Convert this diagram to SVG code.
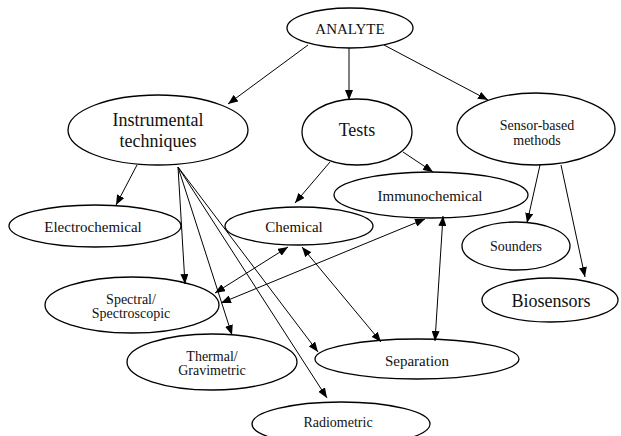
<svg xmlns="http://www.w3.org/2000/svg" width="621" height="436" viewBox="0 0 621 436">
<style>
.n ellipse{fill:#fff;stroke:#000;stroke-width:1.3}
.n text{fill:#111;text-anchor:middle}
.e line{stroke:#000;stroke-width:1}
.a{marker-end:url(#ah)}
.b{marker-end:url(#ah);marker-start:url(#ah)}
</style>
<defs>
<marker id="ah" viewBox="0 0 10 8" refX="10" refY="4" markerWidth="10" markerHeight="8" markerUnits="userSpaceOnUse" orient="auto-start-reverse">
<path d="M0,0 L10,4 L0,8 z" fill="#000"/>
</marker>
</defs>
<rect width="621" height="436" fill="#fff"/>
<g id="nodes" class="n" font-family="'Liberation Serif', 'DejaVu Serif', serif">
<g id="analyte"><ellipse cx="350" cy="28" rx="63" ry="20"/><text x="350" y="34" font-size="15">ANALYTE</text></g>
<g id="instrumental"><ellipse cx="158" cy="130" rx="90" ry="35"/><text x="158" y="126" font-size="18">Instrumental</text><text x="158" y="147" font-size="18">techniques</text></g>
<g id="tests"><ellipse cx="357" cy="132" rx="55" ry="33"/><text x="357" y="136" font-size="18">Tests</text></g>
<g id="sensor"><ellipse cx="536" cy="129" rx="79" ry="36"/><text x="537" y="130" font-size="14">Sensor-based</text><text x="537" y="145" font-size="14">methods</text></g>
<g id="electrochemical"><ellipse cx="95" cy="226" rx="86" ry="21"/><text x="93" y="232" font-size="15">Electrochemical</text></g>
<g id="chemical"><ellipse cx="299" cy="226" rx="74" ry="19"/><text x="294" y="232" font-size="15">Chemical</text></g>
<g id="immunochemical"><ellipse cx="431" cy="195" rx="97" ry="23"/><text x="430" y="201" font-size="15">Immunochemical</text></g>
<g id="spectral"><ellipse cx="132" cy="305" rx="87" ry="28"/><text x="131" y="304" font-size="14">Spectral/</text><text x="131" y="318" font-size="14">Spectroscopic</text></g>
<g id="thermal"><ellipse cx="212" cy="362" rx="85" ry="28"/><text x="212" y="361" font-size="14">Thermal/</text><text x="212" y="375" font-size="14">Gravimetric</text></g>
<g id="radiometric"><ellipse cx="341" cy="424" rx="89" ry="22"/><text x="338" y="427" font-size="14">Radiometric</text></g>
<g id="separation"><ellipse cx="417" cy="359" rx="102" ry="20"/><text x="417" y="366" font-size="15">Separation</text></g>
<g id="sounders"><ellipse cx="516" cy="246" rx="54" ry="24"/><text x="516" y="251" font-size="14">Sounders</text></g>
<g id="biosensors"><ellipse cx="550" cy="300" rx="68" ry="22"/><text x="551" y="307" font-size="18">Biosensors</text></g>
</g>
<g id="connectors" class="e">
<line class="a" x1="308" y1="45" x2="228" y2="104"/>
<line class="a" x1="349" y1="48" x2="349" y2="100"/>
<line class="a" x1="384" y1="45" x2="488" y2="100"/>
<line class="a" x1="137" y1="165" x2="116" y2="205"/>
<line class="a" x1="178" y1="167" x2="185" y2="284"/>
<line class="a" x1="178" y1="167" x2="232" y2="335"/>
<line class="a" x1="178" y1="167" x2="318" y2="352"/>
<line class="a" x1="178" y1="167" x2="327" y2="398"/>
<line class="a" x1="330" y1="162" x2="295" y2="203"/>
<line class="a" x1="403" y1="152" x2="433" y2="172"/>
<line class="a" x1="540" y1="165" x2="527" y2="223"/>
<line class="a" x1="561" y1="165" x2="585" y2="277"/>
<line class="b" x1="288" y1="247" x2="215" y2="293"/>
<line class="b" x1="425" y1="219" x2="221" y2="303"/>
<line class="b" x1="302" y1="247" x2="381" y2="342"/>
<line class="b" x1="443" y1="216" x2="435" y2="341"/>
</g>
</svg>
